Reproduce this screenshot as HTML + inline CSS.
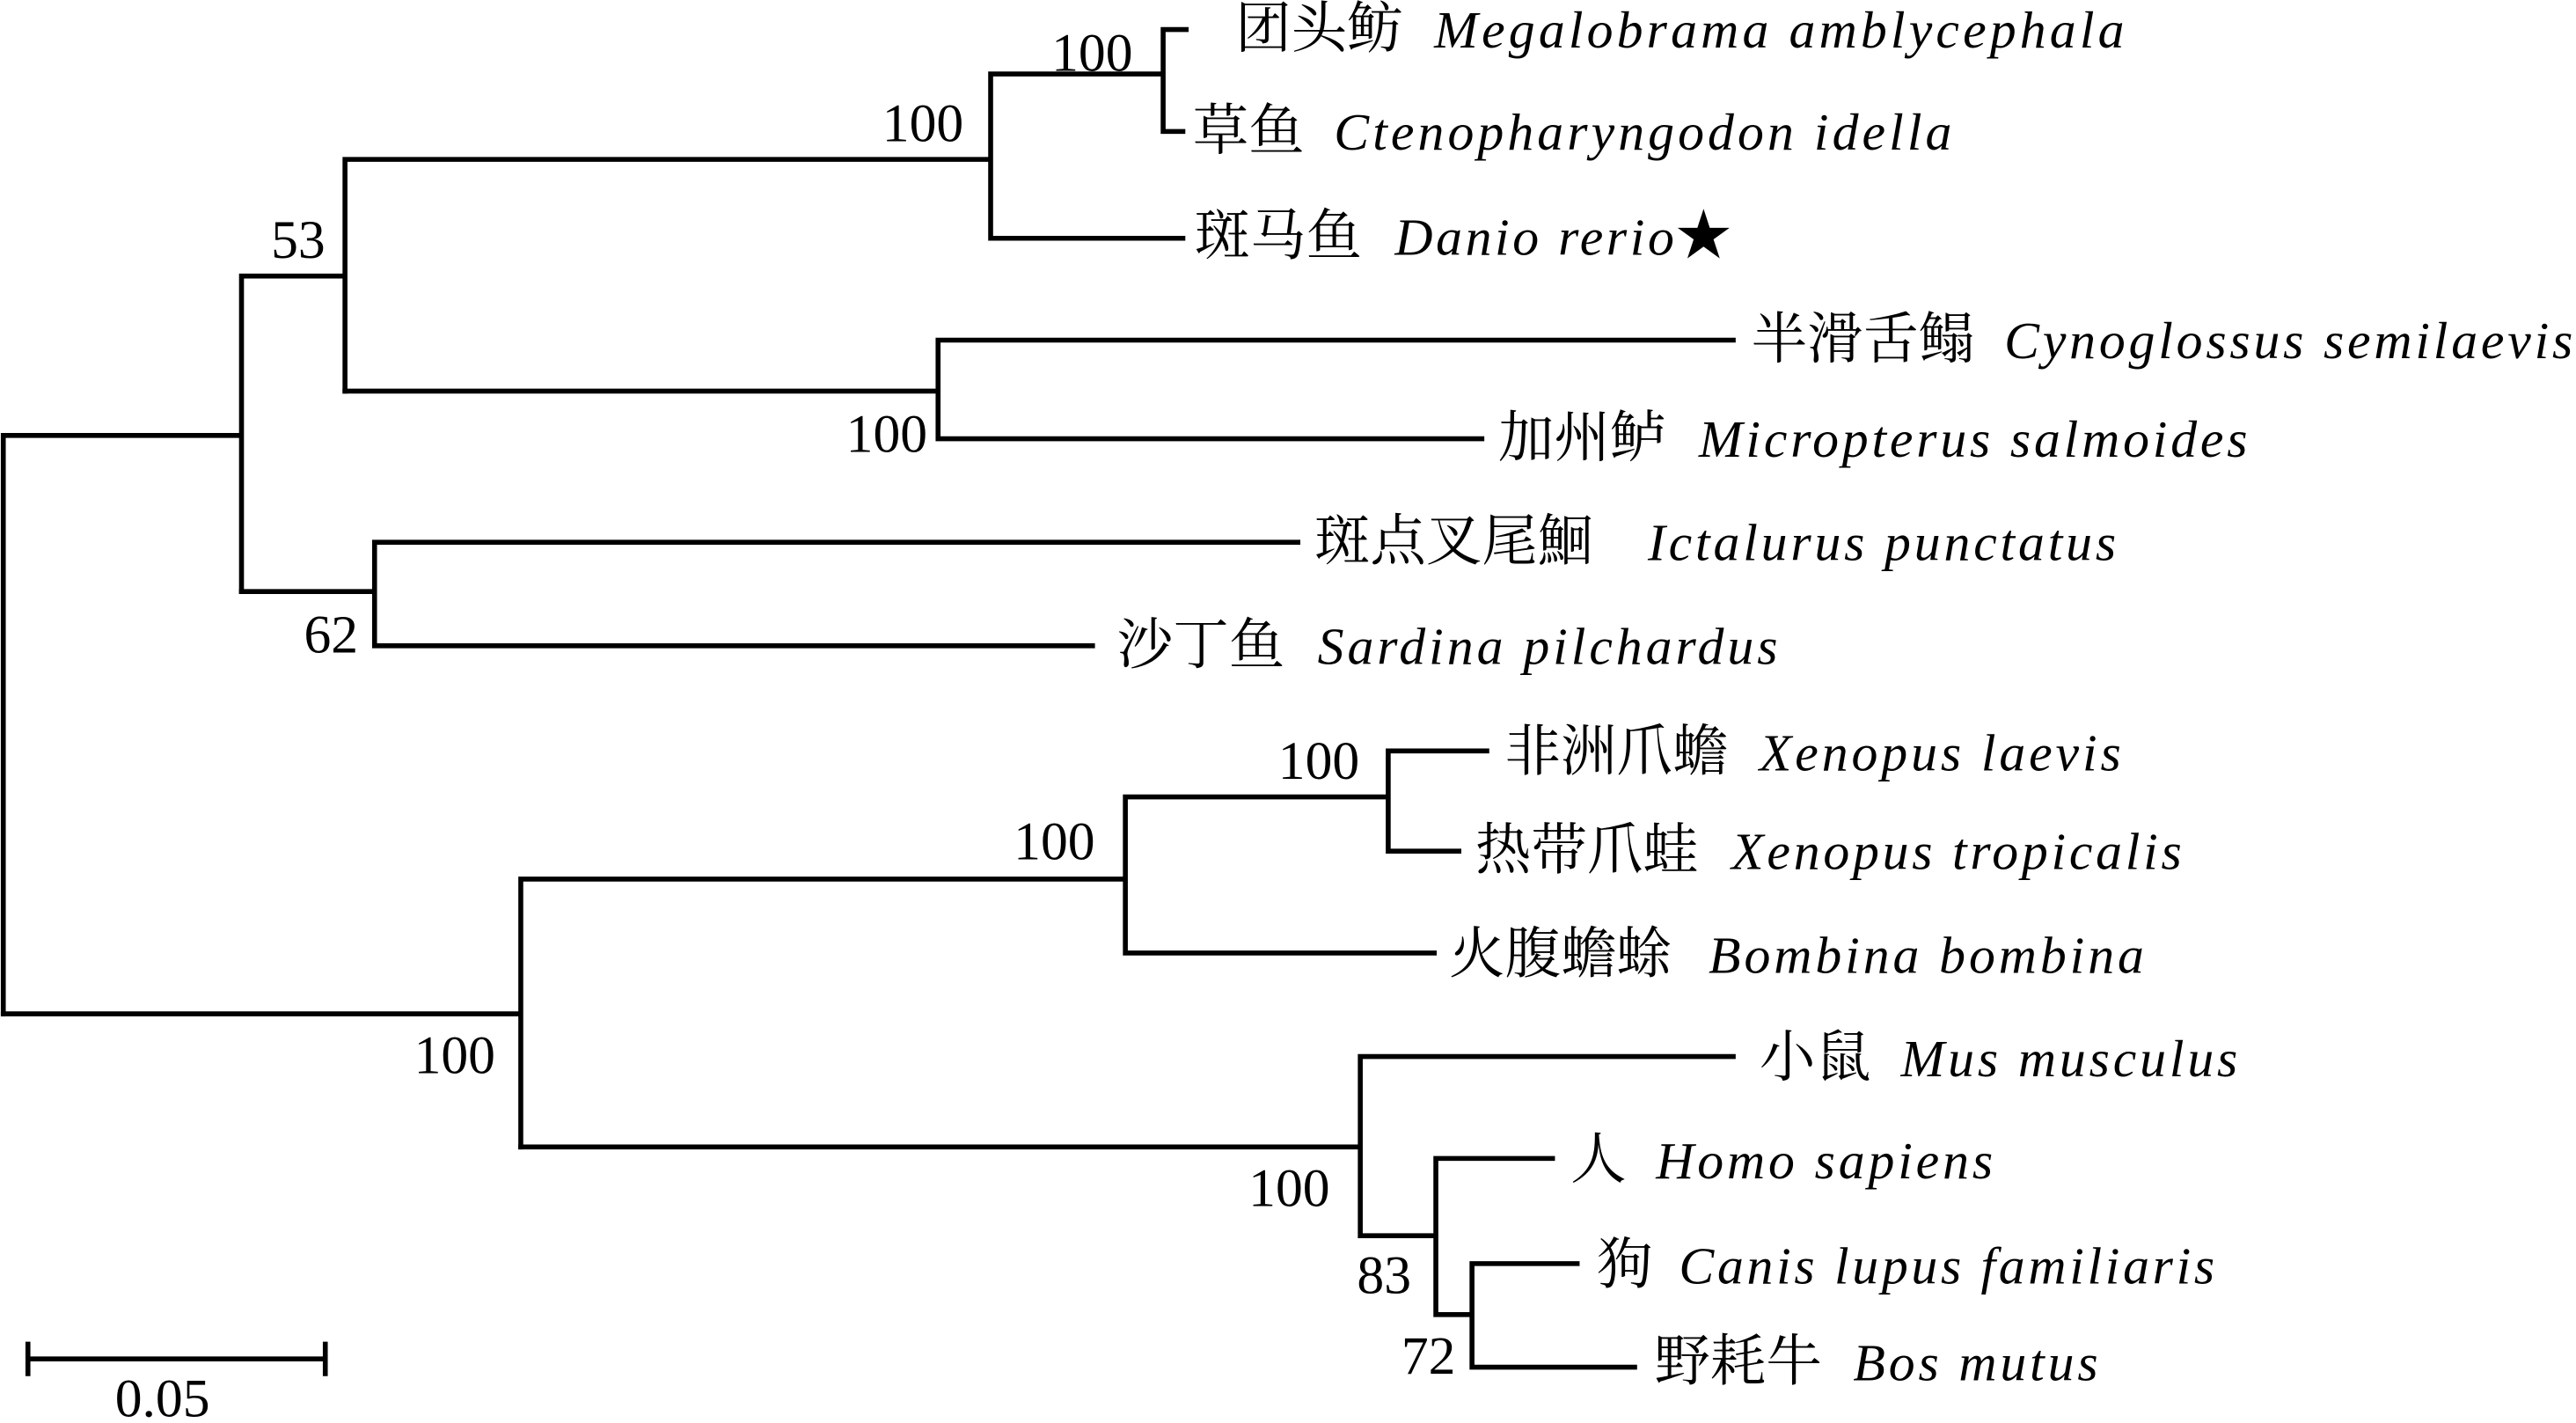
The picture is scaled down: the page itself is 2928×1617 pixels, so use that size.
<!DOCTYPE html>
<html><head><meta charset="utf-8"><style>
html,body{margin:0;padding:0;background:#fff;}
svg{display:block;}
.l{font-family:"Liberation Serif",serif;font-style:italic;font-size:32px;}
.c{font-family:"Liberation Serif","Noto Serif CJK SC","Noto Sans CJK SC",serif;font-size:34px;}
.n{font-family:"Liberation Serif",serif;font-size:33px;}
</style></head><body>
<svg width="2928" height="1617" viewBox="0 0 1568 866" preserveAspectRatio="none" xmlns="http://www.w3.org/2000/svg">
<g stroke="#000" stroke-width="3" fill="none" stroke-linecap="square">
<path d="M2 265V617M2 265H147M147 168V360M147 168H210M210 97V238M210 97H603M603 45V145M603 45H708M708 18V80M708 18H722M708 80H720M603 145H720"/>
<path d="M210 238H571M571 207V267M571 207H1055M571 267H902"/>
<path d="M147 360H228M228 330V393M228 330H790M228 393H665"/>
<path d="M2 617H317M317 535V698M317 535H685M685 485V580M685 485H845M845 457V518M845 457H905M845 518H888M685 580H873"/>
<path d="M317 698H828M828 643V752M828 643H1055M828 752H874M874 705V800M874 705H945M874 800H896M896 769V832M896 769H960M896 832H995"/>
<path d="M17 827H198M17 818V836M198 818V836"/>
</g>
<g fill="#000">
<text class="c" x="752" y="29">团头鲂</text><text class="l" x="873" y="29" textLength="420" lengthAdjust="spacing">Megalobrama amblycephala</text>
<text class="c" x="726" y="91">草鱼</text><text class="l" x="812" y="91" textLength="376" lengthAdjust="spacing">Ctenopharyngodon idella</text>
<text class="c" x="727" y="155">斑马鱼</text><text class="l" x="849" y="155" textLength="170" lengthAdjust="spacing">Danio rerio</text><text class="c" x="1020" y="155">★</text>
<text class="c" x="1066" y="218">半滑舌鳎</text><text class="l" x="1220" y="218" textLength="346" lengthAdjust="spacing">Cynoglossus semilaevis</text>
<text class="c" x="912" y="278">加州鲈</text><text class="l" x="1034" y="278" textLength="334" lengthAdjust="spacing">Micropterus salmoides</text>
<text class="c" x="800" y="341">斑点叉尾鮰</text><text class="l" x="1003" y="341" textLength="285" lengthAdjust="spacing">Ictalurus punctatus</text>
<text class="c" x="680" y="404">沙丁鱼</text><text class="l" x="802" y="404" textLength="280" lengthAdjust="spacing">Sardina pilchardus</text>
<text class="c" x="916" y="469">非洲爪蟾</text><text class="l" x="1071" y="469" textLength="220" lengthAdjust="spacing">Xenopus laevis</text>
<text class="c" x="898" y="529">热带爪蛙</text><text class="l" x="1054" y="529" textLength="274" lengthAdjust="spacing">Xenopus tropicalis</text>
<text class="c" x="882" y="592">火腹蟾蜍</text><text class="l" x="1040" y="592" textLength="265" lengthAdjust="spacing">Bombina bombina</text>
<text class="c" x="1071" y="655">小鼠</text><text class="l" x="1157" y="655" textLength="205" lengthAdjust="spacing">Mus musculus</text>
<text class="c" x="956" y="717">人</text><text class="l" x="1008" y="717" textLength="205" lengthAdjust="spacing">Homo sapiens</text>
<text class="c" x="972" y="781">狗</text><text class="l" x="1022" y="781" textLength="326" lengthAdjust="spacing">Canis lupus familiaris</text>
<text class="c" x="1007" y="840">野耗牛</text><text class="l" x="1128" y="840" textLength="149" lengthAdjust="spacing">Bos mutus</text>
<text class="n" x="640" y="43">100</text>
<text class="n" x="537" y="86">100</text>
<text class="n" x="165" y="157">53</text>
<text class="n" x="515" y="275">100</text>
<text class="n" x="185" y="397">62</text>
<text class="n" x="778" y="474">100</text>
<text class="n" x="617" y="523">100</text>
<text class="n" x="252" y="653">100</text>
<text class="n" x="760" y="734">100</text>
<text class="n" x="826" y="787">83</text>
<text class="n" x="853" y="836">72</text>
<text class="n" x="70" y="862">0.05</text>
</g>
</svg>
</body></html>
